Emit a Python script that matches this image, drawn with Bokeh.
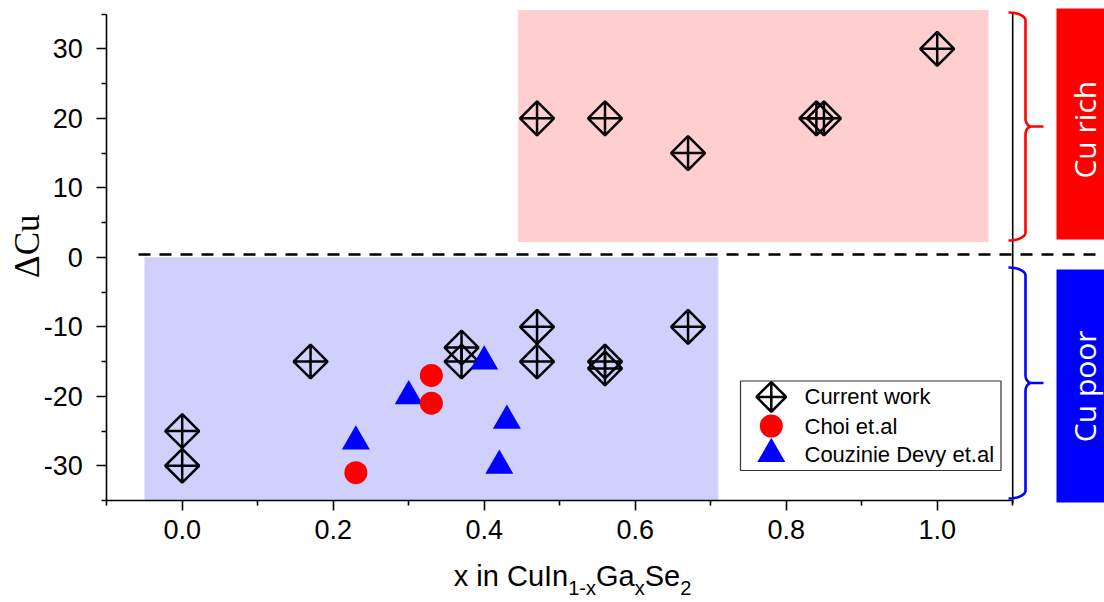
import numpy as np
from bokeh.plotting import figure
from bokeh.models import Range1d, FixedTicker
from bokeh.embed import file_html
from bokeh.resources import INLINE
from bokeh.core.properties import value

# ---------------- data ----------------
cw_x = [0.0, 0.0, 0.17, 0.37, 0.37, 0.47, 0.47, 0.47, 0.56, 0.56, 0.56, 0.67, 0.67, 0.84, 0.85, 1.0]
cw_y = [-25, -30, -15, -13, -15, -10, -15, 20, -15, -16, 20, -10, 15, 20, 20, 30]
choi_x = [0.23, 0.33, 0.33]
choi_y = [-31, -17, -21]
cd_x = [0.23, 0.30, 0.40, 0.43, 0.42]
cd_y = [-26.5, -20, -15, -23.5, -30]

series_names = ["Current work", "Choi et.al", "Couzinie Devy et.al"]
region_names = ["Cu rich", "Cu poor"]
y_title = "ΔCu"
x_title_pieces = [("x in CuIn", 0), ("1-x", 1), ("Ga", 0), ("x", 1), ("Se", 0), ("2", 1)]

x_ticks = [0.0, 0.2, 0.4, 0.6, 0.8, 1.0]
x_tick_labels = ["0.0", "0.2", "0.4", "0.6", "0.8", "1.0"]
x_minor = [-0.1, 0.1, 0.3, 0.5, 0.7, 0.9, 1.1]
y_ticks = [-30, -20, -10, 0, 10, 20, 30]
y_tick_labels = ["-30", "-20", "-10", "0", "10", "20", "30"]
y_minor = [-35, -25, -15, -5, 5, 15, 25, 35]
x_axis_bounds = (-0.1, 1.1)
y_axis_bounds = (-35, 35)

# shaded regions (x0, x1, y0, y1)
rich_box = [0.445, 1.068, 2.2, 35.6]
poor_box = [-0.05, 0.71, -35.0, 0.0]
zero_line_y = 0.4

# ---------------- layout ----------------
W, H = 1104, 602
XPX = 755.0                      # px per x unit
YPX = 6.949                      # px per y unit
AX_LEFT_PX, AX_BOTTOM_PX = 106.2, 500.0
XS = x_axis_bounds[0] - AX_LEFT_PX / XPX
XE = XS + W / XPX
YE = y_axis_bounds[0] + AX_BOTTOM_PX / YPX
YS = YE - H / YPX

def dx(px):   # canvas px -> data x
    return XS + px / XPX

def dy(py):   # canvas py -> data y
    return YE - py / YPX

p = figure(width=W, height=H, x_range=Range1d(XS, XE), y_range=Range1d(YS, YE),
           output_backend="svg", toolbar_location=None,
           min_border_left=0, min_border_right=0, min_border_top=0, min_border_bottom=0)
p.outline_line_color = None
p.xgrid.visible = False
p.ygrid.visible = False
p.background_fill_color = "white"
p.border_fill_color = "white"

TICK_FONT = "Liberation Sans"
for ax in (p.xaxis[0], p.yaxis[0]):
    ax.axis_line_width = 1.6
    ax.major_tick_line_width = 1.6
    ax.minor_tick_line_width = 1.6
    ax.major_tick_in = 0
    ax.major_tick_out = 10
    ax.minor_tick_in = 0
    ax.minor_tick_out = 5
    ax.major_label_text_font = TICK_FONT
    ax.major_label_text_color = "black"
    ax.axis_line_color = "black"
    ax.major_tick_line_color = "black"
    ax.minor_tick_line_color = "black"

p.xaxis.bounds = x_axis_bounds
p.yaxis.bounds = y_axis_bounds
p.xaxis.fixed_location = y_axis_bounds[0]
p.yaxis.fixed_location = x_axis_bounds[0]
p.xaxis.ticker = FixedTicker(ticks=x_ticks, minor_ticks=x_minor)
p.yaxis.ticker = FixedTicker(ticks=y_ticks, minor_ticks=y_minor)
p.xaxis.major_label_overrides = {t: l for t, l in zip(x_ticks, x_tick_labels)}
p.yaxis.major_label_overrides = {t: l for t, l in zip(y_ticks, y_tick_labels)}
p.xaxis.major_label_text_font_size = "27px"
p.yaxis.major_label_text_font_size = "27px"
p.xaxis.major_label_standoff = 9
p.yaxis.major_label_standoff = 14

# shaded regions
p.quad(left=[rich_box[0]], right=[rich_box[1]], bottom=[rich_box[2]], top=[rich_box[3]],
       fill_color="#FFCFCF", line_color=None)
p.quad(left=[poor_box[0]], right=[poor_box[1]], bottom=[poor_box[2]], top=[poor_box[3]],
       fill_color="#D0D0FF", line_color=None)

# dashed zero line
p.line(x=[dx(138), dx(1110)], y=[zero_line_y, zero_line_y], line_color="black",
       line_width=2.6, line_dash="12 9")

# right frame line
p.line(x=[x_axis_bounds[1]] * 2, y=[dy(503), y_axis_bounds[1]], line_color="black", line_width=1.6)

# braces
def brace(x0, x1, x2, ytop, ybot, ry, rxm):
    t = np.linspace(0, np.pi / 2, 16)
    ymid = (ytop + ybot) / 2
    xs, ys = [], []
    xs += list(x0 + (x1 - x0) * np.sin(t)); ys += list(ytop - ry + ry * np.cos(t))
    xs += list(x1 + rxm - rxm * np.cos(t)); ys += list(ymid + ry - ry * np.sin(t))
    xs += [x2]; ys += [ymid]
    xs += list(x1 + rxm - rxm * np.cos(t[::-1])); ys += list(ymid - ry + ry * np.sin(t[::-1]))
    xs += list(x0 + (x1 - x0) * np.sin(t[::-1])); ys += list(ybot + ry - ry * np.cos(t[::-1]))
    return xs, ys

ry = 8 / YPX
rxm = 6 / XPX
bx, by = brace(dx(1008), dx(1025), dx(1043), dy(12), dy(240), ry, rxm)
p.line(bx, by, line_color="red", line_width=2.6)
bx, by = brace(dx(1008), dx(1025), dx(1043), dy(267), dy(498), ry, rxm)
p.line(bx, by, line_color="blue", line_width=2.6)

# right colored boxes
p.quad(left=[dx(1056)], right=[dx(1110)], bottom=[dy(239)], top=[dy(8)], fill_color="red", line_color=None)
p.quad(left=[dx(1056)], right=[dx(1110)], bottom=[dy(502)], top=[dy(269)], fill_color="blue", line_color=None)
p.text(x=[dx(1083.5), dx(1083.5)], y=[dy(129.2), dy(385.8)], text=region_names,
       angle=np.pi / 2, text_align="center", text_baseline="middle",
       text_color="white", text_font=value("Open Sans"), text_font_size="30px")

# data
p.scatter(cw_x, cw_y, marker="square_x", size=24, angle=np.pi / 4,
          fill_color=None, line_color="black", line_width=2.5)
p.scatter(cd_x, cd_y, marker="triangle", size=28, fill_color="blue", line_color=None)
p.scatter(choi_x, choi_y, marker="circle", size=23, fill_color="red", line_color=None)

# legend (drawn by hand to match marker sizes)
p.quad(left=[dx(740)], right=[dx(1000.5)], bottom=[dy(470)], top=[dy(380.5)],
       fill_color="white", line_color="#333333", line_width=1.2)
leg_y = [dy(396.4), dy(425.5), dy(453.5)]
lx = dx(770.8)
p.scatter([lx], [leg_y[0]], marker="square_x", size=21, angle=np.pi / 4,
          fill_color=None, line_color="black", line_width=2.5)
p.scatter([lx], [leg_y[1]], marker="circle", size=23, fill_color="red", line_color=None)
p.scatter([lx], [leg_y[2]], marker="triangle", size=28, fill_color="blue", line_color=None)
p.text(x=[dx(804)] * 3, y=leg_y, text=series_names, text_align="left", text_baseline="middle",
       text_font=value("Liberation Sans"), text_font_size="22px", text_color="black")

# axis titles
p.text(x=[dx(26.5)], y=[dy(245.7)], text=[y_title], angle=np.pi / 2,
       text_align="center", text_baseline="middle",
       text_font=value("Liberation Serif"), text_font_size="35px", text_color="black")

adv = {"x": .5, " ": .278, "i": .222, "n": .556, "C": .722, "u": .556, "I": .278,
       "1": .556, "-": .333, "G": .778, "a": .556, "S": .667, "e": .556, "2": .556}
cur = 453.3
for txt, sub in x_title_pieces:
    fs = 20 if sub else 29
    p.text(x=[dx(cur)], y=[dy(587.6 if sub else 575.0)], text=[txt],
           text_align="left", text_baseline="middle",
           text_font=value("Liberation Sans"), text_font_size=f"{fs}px", text_color="black")
    cur += sum(adv[c] for c in txt) * fs

open("out.html", "w").write(file_html(p, INLINE))
